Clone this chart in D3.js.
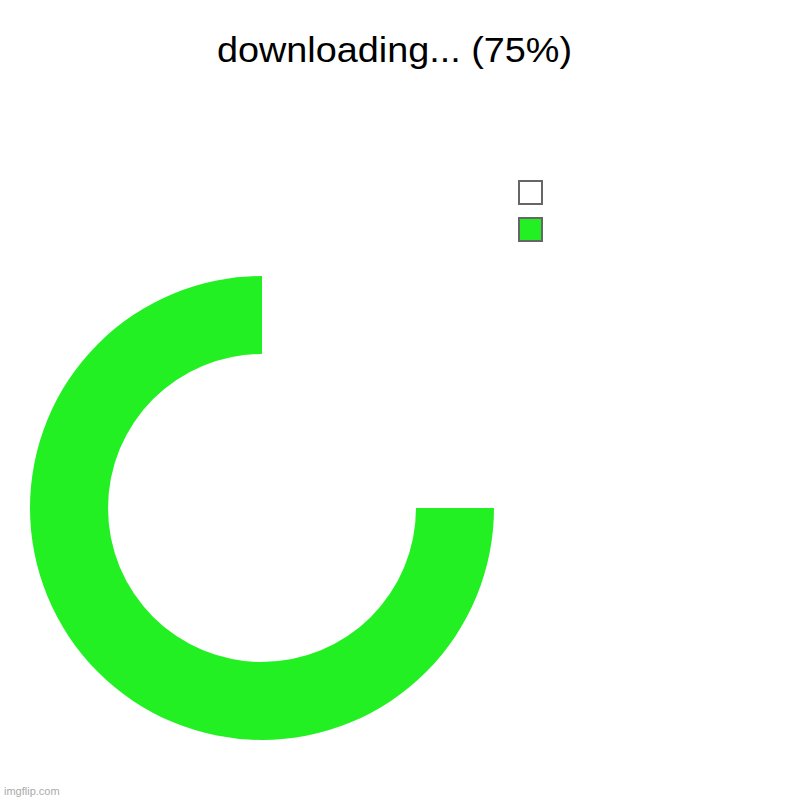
<!DOCTYPE html>
<html>
<head>
<meta charset="utf-8">
<script src="https://cdn.jsdelivr.net/npm/d3@7"></script>
<style>
  body { margin: 0; background: #fff; }
  svg { display: block; }
</style>
</head>
<body>
<div id="chart-holder"></div>
<script>
const title = "downloading... (75%)";
const labels = ["", ""];
const values = [25, 75];
const colors = ["#ffffff", "#22f022"];

const width = 800;
const height = 800;
const cx = 262;
const cy = 508;
const outerRadius = 232;
const innerRadius = 154;

const svg = d3
  .select("#chart-holder")
  .append("svg")
  .attr("width", width)
  .attr("height", height);

svg
  .append("rect")
  .attr("width", width)
  .attr("height", height)
  .attr("fill", "#fff");

// Title
svg
  .append("text")
  .attr("x", 394.5)
  .attr("y", 62)
  .attr("text-anchor", "middle")
  .attr("font-family", "Liberation Sans, Arial, sans-serif")
  .attr("font-size", 35)
  .attr("textLength", 355)
  .attr("lengthAdjust", "spacingAndGlyphs")
  .attr("fill", "#000")
  .text(title);

// Donut
const pie = d3.pie().sort(null).value((d) => d);
const arc = d3.arc().innerRadius(innerRadius).outerRadius(outerRadius);

svg
  .append("g")
  .attr("transform", `translate(${cx},${cy})`)
  .selectAll("path")
  .data(pie(values))
  .enter()
  .append("path")
  .attr("d", arc)
  .attr("fill", (d, i) => colors[i]);

// Legend
const legend = svg
  .append("g")
  .attr("transform", "translate(519,181)")
  .selectAll("g")
  .data(labels)
  .enter()
  .append("g")
  .attr("transform", (d, i) => `translate(0,${i * 37})`);

legend
  .append("rect")
  .attr("width", 23)
  .attr("height", 23)
  .attr("fill", (d, i) => colors[i])
  .attr("stroke", "#666")
  .attr("stroke-width", 2);

legend
  .append("text")
  .attr("x", 32)
  .attr("y", 17)
  .attr("font-family", "Liberation Sans, Arial, sans-serif")
  .attr("font-size", 16)
  .text((d) => d);

// Watermark
svg
  .append("text")
  .attr("x", 4)
  .attr("y", 795)
  .attr("font-family", "Liberation Sans, Arial, sans-serif")
  .attr("font-size", 11)
  .attr("fill", "#aaa")
  .text("imgflip.com");
</script>
</body>
</html>
